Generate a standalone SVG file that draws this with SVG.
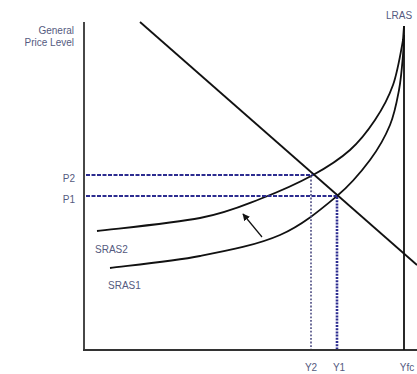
<svg xmlns="http://www.w3.org/2000/svg" width="417" height="374" viewBox="0 0 417 374">
<style>
.lbl{font-family:"Liberation Sans",Arial,sans-serif;font-size:10px;fill:#555a80}
.axis{stroke:#333;stroke-width:1.8;fill:none}
.curve{stroke:#111;stroke-width:1.8;fill:none}
.dash{stroke:#2c2c90;stroke-width:2.2;stroke-dasharray:4 1.5;fill:none}
.dot{stroke:#4a4a80;stroke-width:1.6;stroke-dasharray:1.8 1.8;fill:none}
</style>
<defs>
<marker id="ah" viewBox="0 0 10 10" refX="9" refY="5" markerWidth="6" markerHeight="6" orient="auto">
<path d="M0,0 L10,5 L0,10 z" fill="#111"/>
</marker>
</defs>
<rect width="417" height="374" fill="#fff"/>
<g id="axes">
<line class="axis" x1="84" y1="22" x2="84" y2="351"/>
<line class="axis" x1="83" y1="350" x2="417" y2="350"/>
</g>
<g id="labels">
<text class="lbl" x="74" y="34" text-anchor="end">General</text>
<text class="lbl" x="74" y="46" text-anchor="end">Price Level</text>
<text class="lbl" x="386" y="19">LRAS</text>
<text class="lbl" x="75" y="182" text-anchor="end">P2</text>
<text class="lbl" x="75" y="203" text-anchor="end">P1</text>
<text class="lbl" x="95" y="253">SRAS2</text>
<text class="lbl" x="108" y="289">SRAS1</text>
<text class="lbl" x="311" y="371" text-anchor="middle">Y2</text>
<text class="lbl" x="339" y="371" text-anchor="middle">Y1</text>
<text class="lbl" x="407" y="371" text-anchor="middle">Yfc</text>
</g>
<g id="connectors">
<g id="LRAS"><line class="curve" x1="404" y1="26" x2="404" y2="350"/></g>
<g id="AD"><line class="curve" x1="140" y1="22" x2="417" y2="265"/></g>
<g id="SRAS2"><path class="curve" d="M97,231 C114.2,228.8 172.8,223.3 200,218 C227.2,212.7 241.2,206.2 260,199 C278.8,191.8 298,183.2 313,175 C328,166.8 339.7,159.2 350,150 C360.3,140.8 367.8,130.8 375,120 C382.2,109.2 388.3,98.3 393,85 C397.7,71.7 401.2,49.8 403,40 L404,26"/></g>
<g id="SRAS1"><path class="curve" d="M110,268 C125,266 171.7,261.5 200,256 C228.3,250.5 257.2,245 280,235 C302.8,225 322,208.5 337,196 C352,183.5 361.2,171.8 370,160 C378.8,148.2 385.2,136.7 390,125 C394.8,113.3 396.8,101.7 399,90 C401.2,78.3 402.2,64.2 403,55 C403.8,45.8 403.8,38.3 404,35"/></g>
<g id="P2line"><line class="dash" x1="86" y1="175" x2="313" y2="175"/></g>
<g id="P1line"><line class="dash" x1="86" y1="196" x2="337" y2="196"/></g>
<g id="Y2line"><line class="dot" x1="311" y1="176" x2="311" y2="349"/></g>
<g id="Y1line"><line class="dash" x1="337" y1="197" x2="337" y2="349" style="stroke-dasharray:2 1.2;stroke-width:2.6"/></g>
<g id="shift"><line stroke="#111" stroke-width="1.2" x1="262" y1="237" x2="243" y2="214" marker-end="url(#ah)"/></g>
</g>
</svg>
